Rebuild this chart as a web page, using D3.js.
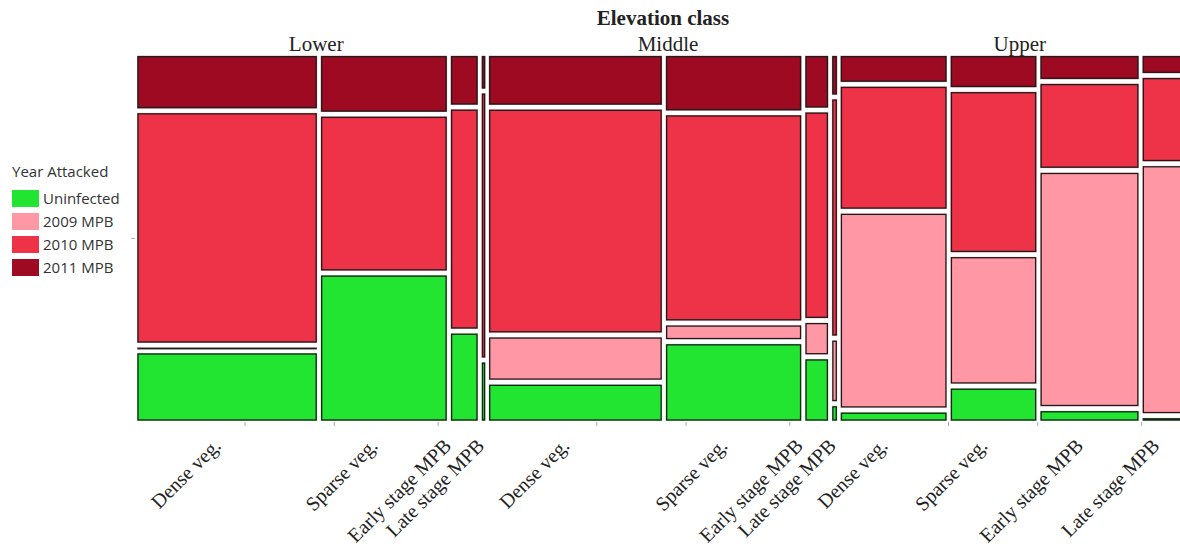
<!DOCTYPE html>
<html>
<head>
<meta charset="utf-8">
<script src="https://cdn.jsdelivr.net/npm/d3@7/dist/d3.min.js"></script>
<style>
  html, body { margin: 0; padding: 0; background: #fff; }
  svg { display: block; }
</style>
</head>
<body>
<svg id="chart" width="1180" height="550"></svg>
<script>
// Mosaic of mountain pine beetle attack year by elevation and vegetation class
const elevations = ["Lower", "Middle", "Upper"];
const vegClasses = ["Dense veg.", "Sparse veg.", "Early stage MPB", "Late stage MPB"];
const years = ["Uninfected", "2009 MPB", "2010 MPB", "2011 MPB"];
const yearColors = ["#22e532", "#ff97a5", "#ee3247", "#9e0a22"];

// column share (%) of each vegetation class within its elevation class
const vegShareLower  = [53.3, 37.4, 8.1, 1.2];
const vegShareMiddle = [51.3, 40.2, 6.9, 1.6];
const vegShareUpper  = [31.5, 25.5, 29.2, 13.8];

// percent of trees in each year class, columns ordered Lower..Upper, Dense..Late
const pctUninfected = [19.3, 40.9, 24.6, 16.5, 10.4, 21.9, 17.6, 4.3, 2.5, 9.3, 2.9, 0.9];
const pct2009       = [0.4, 0, 0, 0, 12.2, 4.1, 9.1, 17.4, 55.2, 36.1, 66.4, 70.3];
const pct2010       = [65.3, 43.3, 61.6, 74.2, 63.4, 58.4, 58.5, 67.2, 34.8, 45.6, 24.0, 23.8];
const pct2011       = [15.0, 15.8, 13.8, 9.3, 14.0, 15.6, 14.8, 11.1, 7.5, 9.0, 6.7, 5.0];

// axis tick values, as fractions of each elevation block
const tickFractions = [0.31, 0.566, 0.864];
const yTickValues = [0.5];

(function () {
  const svg = d3.select("#chart");
  const plotLeft = 137, plotRight = 1189, plotTop = 55.7, plotBottom = 421;
  const colGap = 3.5, rowGap = 4.3;
  const labelSep = 33; // minimum horizontal spacing between rotated labels
  const serif = "'Liberation Serif', 'Times New Roman', serif";
  const sans = "'Open Sans', 'Noto Sans', sans-serif";

  const xBlock = d3.scaleBand().domain(elevations).range([plotLeft, plotRight]).paddingInner(0.009).paddingOuter(0);
  const yAll = d3.scaleLinear().domain([0, 1]).range([plotBottom, plotTop]);
  const plotH = plotBottom - plotTop;

  const shares = [vegShareLower, vegShareMiddle, vegShareUpper];
  const yearPct = [pctUninfected, pct2009, pct2010, pct2011];

  // build tiles column by column, stacking year classes bottom to top
  const tiles = [];
  const columns = [];
  elevations.forEach((elev, ei) => {
    const bx = xBlock(elev);
    const bw = xBlock.bandwidth();
    const inner = d3.scaleLinear().domain([0, 100]).range([0, bw - (vegClasses.length - 1) * colGap]);
    let cum = 0;
    vegClasses.forEach((veg, vi) => {
      const share = shares[ei][vi];
      const x0 = bx + inner(cum) + vi * colGap;
      const w = inner(share);
      cum += share;
      const ci = ei * vegClasses.length + vi;
      columns.push({ elev, veg, x: x0, w, lx: x0 + w / 2 });
      const segs = years.map((yr, yi) => ({ yr, yi, v: yearPct[yi][ci] })).filter(s => s.v > 0);
      const avail = plotH - (segs.length - 1) * rowGap;
      const yIn = d3.scaleLinear().domain([0, 100]).range([0, avail]);
      let yb = plotBottom;
      segs.forEach(s => {
        const h = yIn(s.v);
        tiles.push({ x: x0, y: yb - h, w, h, color: yearColors[s.yi] });
        yb -= h + rowGap;
      });
    });
  });

  // spread crowded labels of neighbouring narrow columns apart
  for (let i = 1; i < columns.length; i++) {
    const a = columns[i - 1], b = columns[i];
    const d = b.lx - a.lx;
    if (d < labelSep) {
      const push = (labelSep - d) / 2;
      a.lx -= push;
      b.lx += push;
    }
  }

  const gTiles = svg.append("g");
  // soft outer edge in the fill colour
  gTiles.selectAll("rect.halo").data(tiles).join("rect")
    .attr("class", "halo")
    .attr("x", d => d.x).attr("y", d => d.y)
    .attr("width", d => d.w).attr("height", d => d.h)
    .attr("fill", d => d.color).attr("opacity", 0.55);
  // tile body with dark outline
  gTiles.selectAll("rect.tile").data(tiles).join("rect")
    .attr("class", "tile")
    .attr("x", d => d.x + 1).attr("y", d => d.y + 1)
    .attr("width", d => Math.max(d.w - 2, 0.5)).attr("height", d => Math.max(d.h - 2, 0.5))
    .attr("fill", d => d.color)
    .attr("stroke", "#1c1c1c").attr("stroke-width", 1.3);

  // bottom ticks
  const gTicks = svg.append("g");
  elevations.forEach(elev => {
    const fx = d3.scaleLinear().domain([0, 1]).range([xBlock(elev), xBlock(elev) + xBlock.bandwidth()]);
    gTicks.append("g").selectAll("line").data(tickFractions).join("line")
      .attr("x1", d => fx(d)).attr("x2", d => fx(d))
      .attr("y1", plotBottom + 1).attr("y2", plotBottom + 5)
      .attr("stroke", "#aaa").attr("stroke-width", 1);
  });
  // left tick
  gTicks.append("g").selectAll("line").data(yTickValues).join("line")
    .attr("x1", plotLeft - 6).attr("x2", plotLeft - 2)
    .attr("y1", d => yAll(d)).attr("y2", d => yAll(d))
    .attr("stroke", "#aaa").attr("stroke-width", 1);

  // category labels under each column
  svg.append("g").selectAll("text").data(columns).join("text")
    .attr("transform", d => `translate(${d.lx - 5},447) rotate(-45)`)
    .attr("text-anchor", "end")
    .attr("font-family", serif).attr("font-size", 20).attr("fill", "#222")
    .text(d => d.veg);

  // elevation headers
  svg.append("g").selectAll("text").data(elevations).join("text")
    .attr("x", d => xBlock(d) + xBlock.bandwidth() / 2 + 5)
    .attr("y", 50.5)
    .attr("text-anchor", "middle")
    .attr("font-family", serif).attr("font-size", 21).attr("fill", "#222")
    .text(d => d);

  svg.append("text")
    .attr("x", (plotLeft + plotRight) / 2).attr("y", 25)
    .attr("text-anchor", "middle")
    .attr("font-family", serif).attr("font-size", 21).attr("font-weight", "bold").attr("fill", "#222")
    .text("Elevation class");

  // legend
  const gLeg = svg.append("g").attr("transform", "translate(12,0)");
  gLeg.append("text")
    .attr("x", 0).attr("y", 176.5)
    .attr("font-family", sans).attr("font-size", 15).attr("fill", "#333")
    .text("Year Attacked");
  const legRows = gLeg.selectAll("g.row").data(years).join("g")
    .attr("class", "row")
    .attr("transform", (d, i) => `translate(0,${190 + i * 23})`);
  legRows.append("rect")
    .attr("width", 27).attr("height", 17)
    .attr("fill", (d, i) => yearColors[i]);
  legRows.append("text")
    .attr("x", 31).attr("y", 14.3)
    .attr("font-family", sans).attr("font-size", 15).attr("fill", "#333")
    .text(d => d);
})();
</script>
</body>
</html>
